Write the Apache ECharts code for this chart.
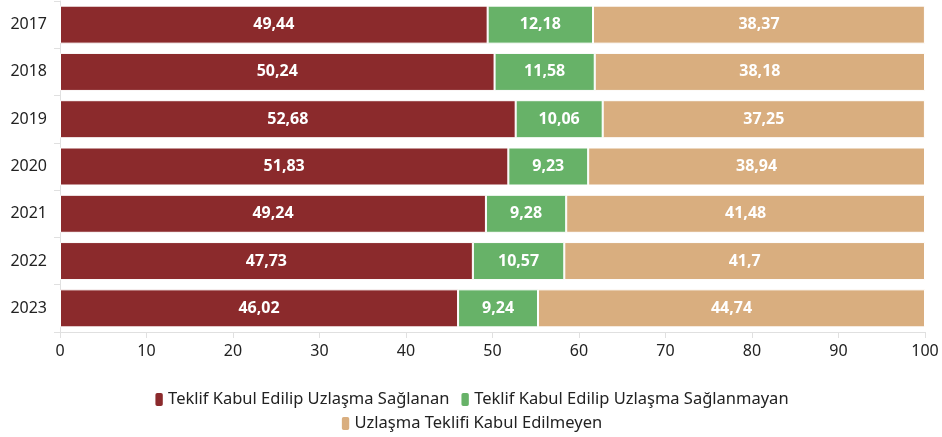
<!DOCTYPE html>
<html>
<head>
<meta charset="utf-8">
<script src="https://cdn.jsdelivr.net/npm/echarts@6/dist/echarts.min.js"></script>
<style>
  html, body { margin: 0; padding: 0; background: #fff; }
  #chart { width: 942px; height: 437px; }
</style>
</head>
<body>
<div id="chart"></div>
<script>
const years = ['2017', '2018', '2019', '2020', '2021', '2022', '2023'];
const saglanan = [49.44, 50.24, 52.68, 51.83, 49.24, 47.73, 46.02];
const saglanmayan = [12.18, 11.58, 10.06, 9.23, 9.28, 10.57, 9.24];
const kabulEdilmeyen = [38.37, 38.18, 37.25, 38.94, 41.48, 41.7, 44.74];
const seriesNames = [
  'Teklif Kabul Edilip Uzlaşma Sağlanan',
  'Teklif Kabul Edilip Uzlaşma Sağlanmayan',
  'Uzlaşma Teklifi Kabul Edilmeyen'
];
const colors = ['#8b2a2c', '#67b268', '#d9ae7f'];

const font = '"Noto Sans", sans-serif';
const chart = echarts.init(document.getElementById('chart'));

function makeSeries(name, data, color) {
  return {
    name: name,
    type: 'bar',
    stack: 'total',
    barWidth: 38,
    data: data,
    itemStyle: { color: color, borderColor: '#fff', borderWidth: 1 },
    label: {
      show: true,
      position: 'inside',
      color: '#fff',
      fontWeight: 'bold',
      fontSize: 16,
      fontFamily: font,
      formatter: (p) => String(p.value).replace('.', ',')
    }
  };
}

// two legends so the second row is centred as in the original
const legendBase = {
  left: 'center',
  icon: 'path://M3,0 L7,0 Q10,0 10,3 L10,13 Q10,16 7,16 L3,16 Q0,16 0,13 L0,3 Q0,0 3,0 Z',
  itemWidth: 10,
  itemHeight: 15,
  itemGap: 10,
  textStyle: { color: '#222', fontSize: 16.5, fontFamily: font, padding: [0, 0, 0, -1] }
};

chart.setOption({
  animation: false,
  grid: { left: 60, right: 17, top: 1, bottom: 105 },
  xAxis: {
    type: 'value',
    min: 0,
    max: 100,
    interval: 10,
    axisLine: { show: true, lineStyle: { color: '#e0e0e0' } },
    axisTick: { show: true, length: 6, lineStyle: { color: '#e0e0e0' } },
    splitLine: { show: false },
    axisLabel: { color: '#222', fontSize: 16, fontFamily: font, margin: 11 }
  },
  yAxis: {
    type: 'category',
    inverse: true,
    data: years,
    axisLine: { show: true, lineStyle: { color: '#e0e0e0' } },
    axisTick: { show: true, length: 6, lineStyle: { color: '#e0e0e0' } },
    axisLabel: { color: '#222', fontSize: 16, fontFamily: font, margin: 13 }
  },
  legend: [
    Object.assign({}, legendBase, { top: 386, data: seriesNames.slice(0, 2) }),
    Object.assign({}, legendBase, { top: 410, data: seriesNames.slice(2) })
  ],
  series: [
    makeSeries(seriesNames[0], saglanan, colors[0]),
    makeSeries(seriesNames[1], saglanmayan, colors[1]),
    makeSeries(seriesNames[2], kabulEdilmeyen, colors[2])
  ]
});
</script>
</body>
</html>
